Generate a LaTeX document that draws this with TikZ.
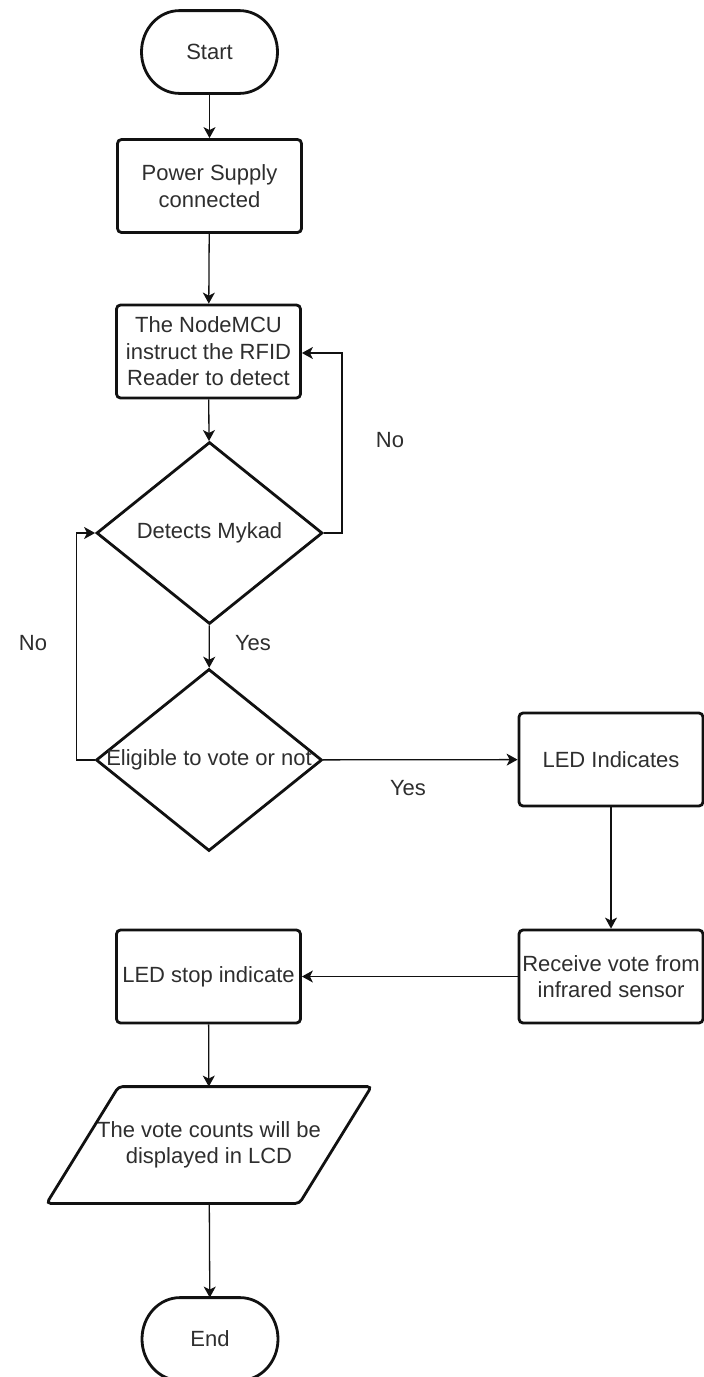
\documentclass[tikz,border=0pt]{standalone}
\usepackage{fontspec}
\setmainfont{Liberation Sans}
\usetikzlibrary{shapes.geometric,arrows.meta}
\definecolor{txt}{HTML}{2E2E2E}
\definecolor{ln}{HTML}{111111}
% terminator outline: flat top and bottom, elliptic ends
% (anchors sit 1.4pt outside the 80pt body, hence the 41.4pt half height)
\newcommand\terminator[1]{%
  \draw[draw=ln, line width=2.8pt, line join=round]
    (#1.north) -- ([xshift=30pt]#1.north)
    arc[start angle=90, end angle=-90, x radius=38pt, y radius=41.4pt]
    -- ([xshift=-30pt]#1.south)
    arc[start angle=270, end angle=90, x radius=38pt, y radius=41.4pt] -- cycle;}
\begin{document}
\begin{tikzpicture}[x=1pt,y=-1pt,
  font=\fontsize{22}{26.5}\selectfont,
  box/.style={draw=ln, line width=2.8pt, rounded corners=4pt, minimum width=184pt,
              minimum height=93pt, align=center, inner sep=0pt, text=txt},
  term/.style={inner sep=0pt, outer sep=1.4pt, minimum width=136pt,
               minimum height=80pt, text=txt},
  decision/.style={draw=ln, line width=2.8pt, diamond, inner sep=0pt,
                   minimum width=226pt, minimum height=182pt},
  flow/.style={draw=ln, line width=1.3pt, -{Stealth[length=11pt,width=12pt,inset=3pt]}},
  lbl/.style={inner sep=0pt, text=txt}
]
\useasboundingbox (0,0) rectangle (704,1377);

% terminators and process boxes
\node[term] (start) at (209.5,52) {Start};
\terminator{start}
\node[box] (power) at (209.5,186) {Power Supply\\connected};
\node[box] (mcu) at (208.5,351.5) {The NodeMCU\\instruct the RFID\\Reader to detect};

% decisions (text laid over the empty diamond)
\node[decision, label={[lbl]center:Detects Mykad}] (d1) at (209.5,533) {};
\node[decision, label={[lbl]center:Eligible to vote or not}] (d2) at (209,760) {};

\node[box] (ledon) at (611,759.5) {LED Indicates};
\node[box] (recv) at (611,976.5) {Receive vote from\\infrared sensor};
\node[box] (ledoff) at (208.5,976.5) {LED stop indicate};

% output parallelogram
\node[inner sep=0pt, outer sep=1.4pt, minimum width=250pt, minimum height=114pt,
      align=center, text=txt] (lcd) at (209,1145) {The vote counts will be\\displayed in LCD};
\draw[draw=ln, line width=2.8pt, rounded corners=4pt]
  ([xshift=36pt]lcd.north west) -- ([xshift=36pt]lcd.north east)
  -- ([xshift=-36pt]lcd.south east) -- ([xshift=-36pt]lcd.south west) -- cycle;

\node[term] (end) at (210,1339) {End};
\terminator{end}

% connectors
\draw[flow] (start) -- (power);
\draw[flow] (power) -- (mcu);
\draw[flow] (mcu) -- (d1);
\draw[flow] (d1.east) -- ++(18,0) |- ([yshift=-1.5pt]mcu.east);
\draw[flow] (d1) -- (d2);
\draw[flow] (d2.west) -- ++(-18,0) |- (d1.west);
\draw[flow] (d2) -- (ledon);
\draw[flow] (ledon) -- (recv);
\draw[flow] (recv) -- (ledoff);
\draw[flow] (ledoff) -- (lcd);
\draw[flow] (lcd) -- (end);

% branch labels
\node[lbl] (no1) at (390,440) {No};
\node[lbl] (no2) at (33,643) {No};
\node[lbl] (yes1) at (253,643) {Yes};
\node[lbl] (yes2) at (408,788) {Yes};
\end{tikzpicture}
\end{document}
